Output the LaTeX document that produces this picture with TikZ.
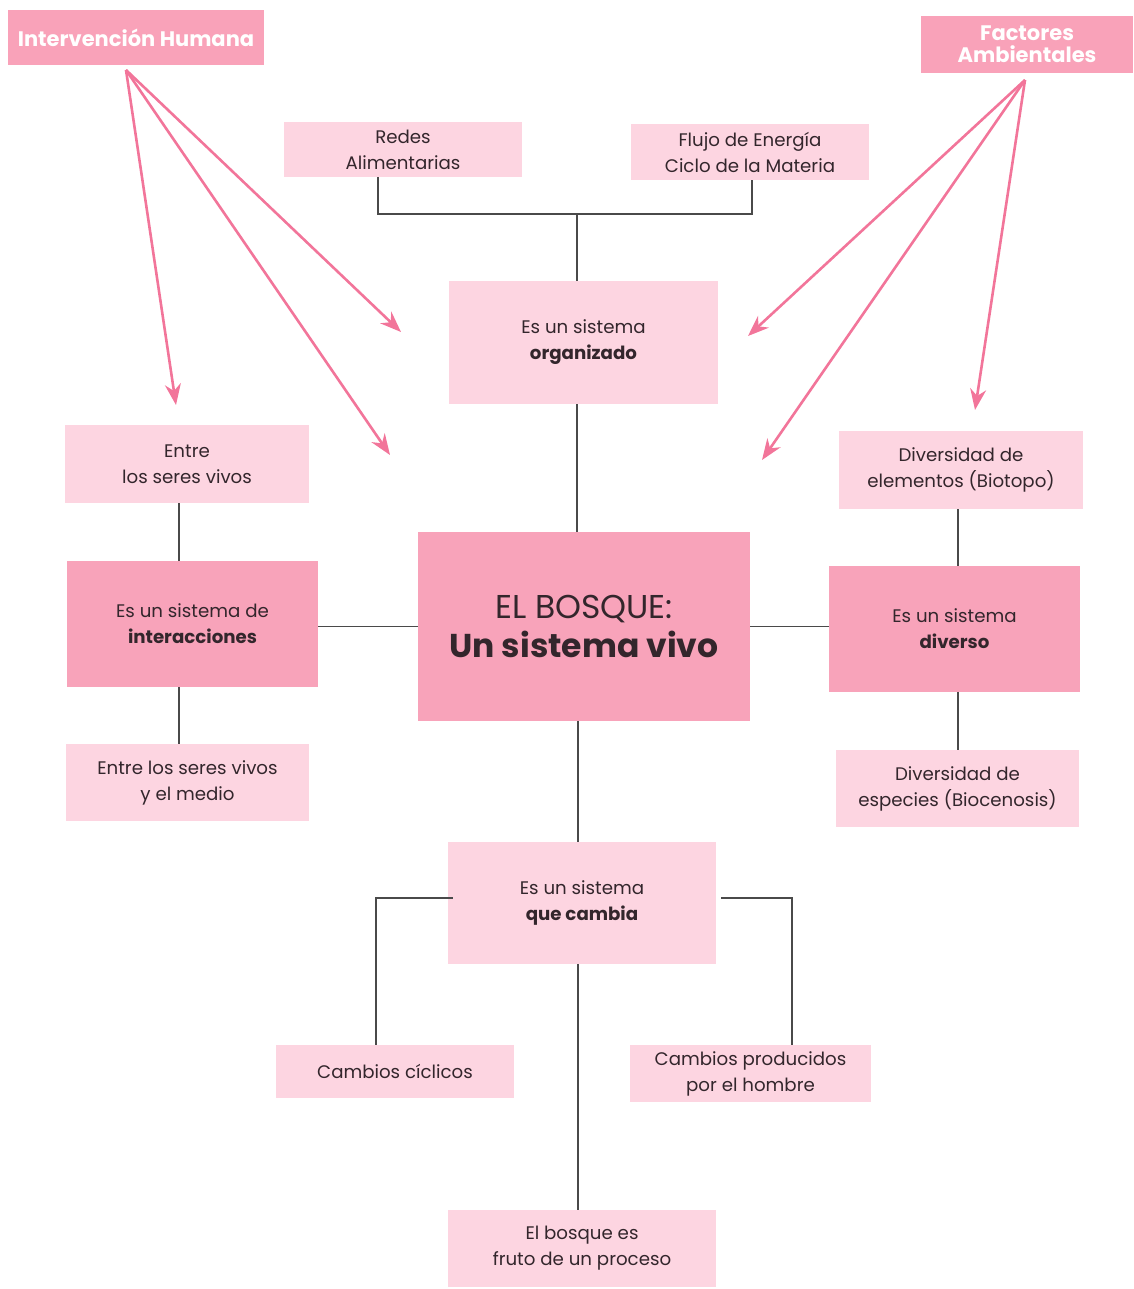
\documentclass[tikz,border=0pt]{standalone}
\usepackage{fontspec}
\setmainfont{Poppins}
\usetikzlibrary{arrows.meta}
\definecolor{darkpink}{HTML}{F8A3BA}
\definecolor{lightpink}{HTML}{FDD5E1}
\definecolor{headpink}{HTML}{F9A2B9}
\definecolor{arrowpink}{HTML}{F2759A}
\definecolor{txt}{HTML}{33262C}
\definecolor{linegray}{HTML}{4A4A4A}
\begin{document}
\begin{tikzpicture}[x=1pt,y=-1pt,
  every node/.style={inner sep=0pt, align=center, text=txt, font=\fontsize{18.2}{26}\selectfont},
  lbox/.style={fill=lightpink},
  dbox/.style={fill=darkpink},
  hbox/.style={fill=headpink, text=white, font=\fontsize{21}{22}\selectfont\bfseries},
  conn/.style={draw=linegray, line width=1.8pt},
  parrow/.style={draw=arrowpink, line width=2.6pt, -{Stealth[length=21pt,width=16pt]}}
]
\useasboundingbox (0,0) rectangle (1133,1289);
% header boxes
\node[hbox, minimum width=256, minimum height=55] (ih) at (136,37.5) {Intervención Humana};
\node[hbox, minimum width=212, minimum height=57] (fa) at (1027,44.5) {Factores\\Ambientales};
% top boxes
\node[lbox, minimum width=238, minimum height=55] (redes) at (403,149.5) {Redes\\Alimentarias};
\node[lbox, minimum width=238, minimum height=56] (flujo) at (750,152) {Flujo de Energía\\Ciclo de la Materia};
\node[lbox, minimum width=269, minimum height=123] (org) at (583.5,342.5) {Es un sistema\\\textbf{organizado}};
% left column
\node[lbox, minimum width=244, minimum height=78] (entre1) at (187,464) {Entre\\los seres vivos};
\node[dbox, minimum width=251, minimum height=126] (inter) at (192.5,624) {Es un sistema de\\\textbf{interacciones}};
\node[lbox, minimum width=243, minimum height=77] (entre2) at (187.5,782.5) {Entre los seres vivos\\y el medio};
% right column
\node[lbox, minimum width=244, minimum height=78] (divel) at (961,470) {Diversidad de\\elementos (Biotopo)};
\node[dbox, minimum width=251, minimum height=126] (diverso) at (954.5,629) {Es un sistema\\\textbf{diverso}};
\node[lbox, minimum width=243, minimum height=77] (especies) at (957.5,788.5) {Diversidad de\\especies (Biocenosis)};
% center
\node[dbox, minimum width=332, minimum height=189, font=\fontsize{33}{39}\selectfont] (bosque) at (584,626.5)
  {EL BOSQUE:\\\textbf{Un sistema vivo}};
\node[lbox, minimum width=268, minimum height=122] (cambia) at (582,903) {Es un sistema\\\textbf{que cambia}};
\node[lbox, minimum width=238, minimum height=53] (ciclicos) at (395,1071.5) {Cambios cíclicos};
\node[lbox, minimum width=241, minimum height=57] (prod) at (750.5,1073.5) {Cambios producidos\\por el hombre};
\node[lbox, minimum width=268, minimum height=77] (fruto) at (582,1248.5) {El bosque es\\fruto de un proceso};
% connectors
\coordinate (j1) at (577,214);
\draw[conn] ([xshift=-25pt]redes.south) |- (j1) -| ([xshift=2pt]flujo.south);
\draw[conn] (j1) -- ([xshift=-6.5pt]org.north);
\draw[conn] ([xshift=-6.5pt]org.south) -- ([xshift=-7pt]bosque.north);
\draw[conn] (bosque.west) -- (bosque.west -| inter.east);
\draw[conn] (bosque.east) -- (bosque.east -| diverso.west);
\draw[conn] ([xshift=-8pt]entre1.south) -- ([xshift=-13.5pt]inter.north);
\draw[conn] ([xshift=-13.5pt]inter.south) -- ([xshift=-8.5pt]entre2.north);
\draw[conn] ([xshift=-3pt]divel.south) -- ([xshift=3.5pt]diverso.north);
\draw[conn] ([xshift=3.5pt]diverso.south) -- ([xshift=0.5pt]especies.north);
\draw[conn] ([xshift=-6pt]bosque.south) -- ([xshift=-4pt]cambia.north);
\draw[conn] ([xshift=5pt,yshift=5pt]cambia.west) -| ([xshift=-19pt]ciclicos.north);
\draw[conn] ([xshift=5pt,yshift=5pt]cambia.east) -| ([xshift=41.5pt]prod.north);
\draw[conn] ([xshift=-4pt]cambia.south) -- ([xshift=-4pt]fruto.north);
% pink arrows
\coordinate (ihs) at (126,70);
\coordinate (fas) at (1025,80);
\coordinate (a1) at (176,405);
\coordinate (a2) at (401,332);
\coordinate (a3) at (390,455);
\coordinate (b1) at (748,336);
\coordinate (b2) at (762,460);
\coordinate (b3) at (975,410);
\draw[parrow] (ihs) -- (a1);
\draw[parrow] (ihs) -- (a2);
\draw[parrow] (ihs) -- (a3);
\draw[parrow] (fas) -- (b1);
\draw[parrow] (fas) -- (b2);
\draw[parrow] (fas) -- (b3);
\end{tikzpicture}
\end{document}
